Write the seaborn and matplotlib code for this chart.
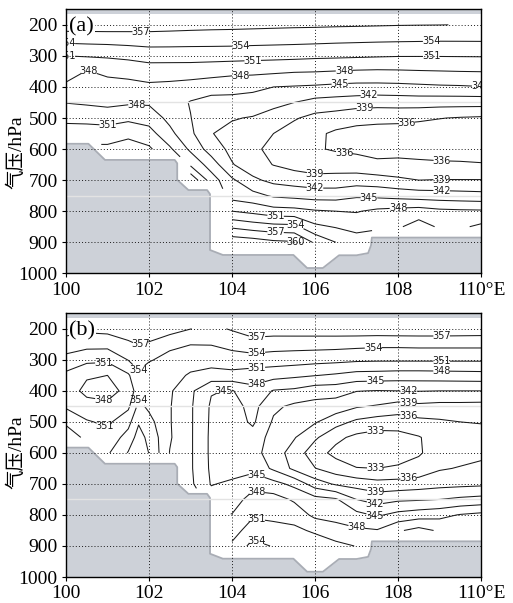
import numpy as np
import matplotlib
matplotlib.use("Agg")
import matplotlib.pyplot as plt
import seaborn as sns

nan = np.nan

# ---------------- data ----------------
pres = [200, 250, 300, 350, 400, 450, 500, 550, 600, 650, 700, 750, 800, 850, 900, 950, 1000]

lon_a = [100.0, 100.5, 101.0, 101.5, 102.0, 102.5, 103.0, 103.5, 104.0, 104.5, 105.0,
         105.5, 106.0, 106.5, 107.0, 107.5, 108.0, 108.5, 109.0, 109.5, 110.0]
# theta-e (K), one list per longitude column, values at the pressure levels in `pres`
theta_a_cols = [
    [358.66, 354.70, 351.00, 349.10, 347.50, 347.90, 350.20, 352.50, nan, nan, nan, nan, nan, nan, nan, nan, nan],
    [358.60, 354.85, 351.20, 347.90, 347.20, 347.60, 350.00, 352.60, nan, nan, nan, nan, nan, nan, nan, nan, nan],
    [358.60, 354.95, 351.40, 348.45, 347.20, 347.30, 349.60, 352.60, 354.60, nan, nan, nan, nan, nan, nan, nan, nan],
    [358.45, 355.15, 351.70, 349.00, 347.00, 347.60, 350.30, 353.30, 355.30, nan, nan, nan, nan, nan, nan, nan, nan],
    [358.30, 355.35, 352.20, 349.50, 347.40, 347.60, 349.70, 352.20, 354.50, nan, nan, nan, nan, nan, nan, nan, nan],
    [358.15, 355.30, 352.20, 349.45, 347.20, 346.60, 347.20, 348.80, 351.50, nan, nan, nan, nan, nan, nan, nan, nan],
    [358.00, 355.20, 352.20, 349.40, 346.80, 344.80, 345.10, 345.60, 347.40, 350.50, 356.50, nan, nan, nan, nan, nan, nan],
    [357.87, 355.15, 352.20, 349.10, 346.40, 343.80, 342.60, 342.10, 343.60, 346.60, 349.50, nan, nan, nan, nan, nan, nan],
    [357.80, 355.10, 352.15, 348.80, 346.00, 344.00, 342.20, 341.20, 341.20, 342.20, 345.50, 346.80, 351.00, 356.50, 362.00, nan, nan],
    [357.70, 355.00, 352.00, 348.70, 345.70, 343.70, 341.80, 340.20, 339.60, 340.30, 342.60, 346.00, 350.20, 355.60, 361.50, nan, nan],
    [357.60, 354.90, 351.90, 348.50, 345.00, 342.80, 340.80, 339.00, 338.20, 338.90, 341.20, 344.60, 349.20, 355.00, 360.60, nan, nan],
    [357.50, 354.80, 351.80, 348.20, 344.80, 342.00, 339.30, 337.60, 337.00, 338.00, 340.60, 344.20, 349.00, 354.80, 360.30, nan, nan],
    [357.45, 354.70, 351.60, 348.10, 344.60, 341.00, 338.10, 336.60, 336.30, 337.40, 340.10, 343.80, 348.30, 351.60, 356.50, nan, nan],
    [357.35, 354.55, 351.50, 347.90, 344.30, 340.70, 337.60, 335.50, 335.70, 337.60, 340.10, 343.80, 348.00, 350.80, 354.00, nan, nan],
    [357.28, 354.45, 351.38, 347.70, 344.10, 340.40, 336.80, 335.20, 335.40, 337.20, 340.50, 344.60, 347.80, 350.00, 352.50, nan, nan],
    [357.20, 354.35, 351.25, 347.60, 344.10, 340.10, 336.80, 334.80, 335.00, 336.60, 340.20, 344.40, 348.60, 350.50, nan, nan, nan],
    [357.11, 354.28, 351.13, 347.67, 344.20, 340.20, 336.80, 334.60, 334.80, 336.90, 339.50, 344.00, 349.00, 350.60, nan, nan, nan],
    [357.06, 354.22, 351.12, 347.80, 344.40, 340.30, 336.50, 334.40, 334.60, 336.70, 339.00, 343.60, 349.40, 352.30, nan, nan, nan],
    [357.03, 354.17, 351.12, 347.90, 344.60, 340.20, 336.10, 334.30, 334.50, 336.50, 339.10, 343.40, 348.70, 350.60, nan, nan, nan],
    [356.96, 354.18, 351.15, 348.00, 344.70, 340.20, 335.80, 334.30, 334.50, 336.40, 339.10, 343.20, 348.50, 350.50, nan, nan, nan],
    [356.85, 354.20, 351.18, 348.06, 344.90, 340.20, 335.60, 334.30, 334.60, 336.20, 339.10, 343.00, 348.40, 351.60, nan, nan, nan],
]

lon_b = [100.0, 100.5, 101.0, 101.5, 101.75, 102.0, 102.5, 103.0, 103.5, 104.0, 104.5, 105.0,
         105.5, 106.0, 106.5, 107.0, 107.5, 108.0, 108.5, 109.0, 109.5, 110.0]
theta_b_cols = [
    [358.20, 355.60, 353.00, 350.30, 349.30, 350.60, 353.40, 356.00, nan, nan, nan, nan, nan, nan, nan, nan, nan],
    [357.70, 355.00, 351.80, 348.30, 347.30, 349.00, 351.30, 353.20, nan, nan, nan, nan, nan, nan, nan, nan, nan],
    [358.00, 355.00, 351.60, 348.00, 347.00, 348.60, 350.40, 352.00, 353.60, nan, nan, nan, nan, nan, nan, nan, nan],
    [358.50, 356.50, 354.10, 350.60, 348.80, 350.40, 353.00, 355.20, 357.20, nan, nan, nan, nan, nan, nan, nan, nan],
    [358.80, 357.10, 355.00, 353.50, 352.80, 354.80, 356.70, 358.20, 359.50, nan, nan, nan, nan, nan, nan, nan, nan],
    [359.00, 356.60, 354.20, 352.80, 352.60, 353.40, 355.00, 356.20, 356.90, nan, nan, nan, nan, nan, nan, nan, nan],
    [358.50, 354.50, 353.30, 352.30, 351.40, 351.20, 351.20, 351.30, 350.90, nan, nan, nan, nan, nan, nan, nan, nan],
    [357.05, 354.05, 352.50, 350.60, 348.60, 348.40, 348.40, 348.40, 348.40, 348.40, 348.60, nan, nan, nan, nan, nan, nan],
    [356.20, 354.10, 352.30, 349.80, 345.20, 344.60, 344.50, 344.40, 344.40, 344.50, 344.80, 346.50, nan, nan, nan, nan, nan],
    [357.30, 354.80, 352.80, 350.00, 344.80, 343.80, 343.50, 343.40, 343.40, 343.60, 345.60, 346.80, 348.10, 349.80, 351.50, nan, nan],
    [358.30, 355.90, 352.60, 349.60, 347.00, 346.00, 345.50, 343.80, 343.20, 344.00, 347.10, 349.00, 350.60, 352.40, 355.00, nan, nan],
    [358.50, 355.30, 352.50, 349.10, 344.80, 342.60, 341.60, 340.80, 340.40, 341.50, 346.00, 349.20, 350.20, 352.10, 353.80, nan, nan],
    [358.60, 355.20, 352.30, 348.60, 344.40, 341.40, 340.00, 339.20, 337.80, 338.30, 344.20, 347.60, 349.70, 351.70, 353.50, nan, nan],
    [358.60, 355.20, 352.00, 348.10, 343.30, 341.00, 339.30, 336.50, 334.20, 336.10, 340.50, 346.10, 347.30, 350.50, 352.90, nan, nan],
    [358.70, 355.10, 351.80, 347.60, 343.20, 340.60, 337.20, 333.70, 332.20, 334.40, 338.60, 345.40, 346.90, 349.20, 351.80, nan, nan],
    [358.80, 354.90, 351.50, 346.90, 342.10, 339.30, 335.40, 332.30, 331.60, 333.10, 337.80, 342.00, 345.90, 348.50, 350.90, nan, nan],
    [358.80, 354.70, 351.40, 346.80, 341.90, 338.70, 334.60, 331.70, 331.00, 333.00, 337.00, 340.80, 344.60, 348.20, nan, nan, nan],
    [358.90, 354.70, 351.40, 346.60, 342.00, 337.80, 334.40, 332.00, 331.30, 333.50, 337.10, 341.50, 345.90, 350.60, nan, nan, nan],
    [358.90, 354.80, 351.40, 346.60, 342.10, 338.30, 335.20, 332.80, 332.70, 334.00, 337.50, 341.70, 346.60, 352.00, nan, nan, nan],
    [358.90, 354.80, 351.40, 346.70, 342.00, 338.00, 335.60, 334.40, 334.30, 335.70, 338.00, 342.00, 347.10, 350.60, nan, nan, nan],
    [358.80, 354.80, 351.40, 346.80, 342.00, 338.00, 336.00, 334.90, 334.80, 336.20, 338.20, 342.60, 348.20, 350.50, nan, nan, nan],
    [358.70, 354.80, 351.40, 346.90, 342.00, 337.90, 336.10, 335.30, 335.20, 336.80, 338.40, 343.00, 348.80, 350.30, nan, nan, nan],
]

# terrain profile (surface pressure, hPa)
terrain_lon = [100.0, 100.54, 100.94, 102.62, 102.68, 102.68, 102.95, 103.40, 103.47, 103.47,
               103.78, 105.48, 105.81, 106.19, 106.58, 107.00, 107.28, 107.35, 107.37, 110.0]
terrain_p = [583, 583, 635, 635, 646, 699, 732, 732, 745, 925,
             941, 941, 983, 983, 942, 942, 935, 910, 885, 885]

levels = [333, 336, 339, 342, 345, 348, 351, 354, 357, 360]

xticks = [100, 102, 104, 106, 108, 110]
xtick_labels = ["100", "102", "104", "106", "108", "110°E"]
yticks = [200, 300, 400, 500, 600, 700, 800, 900, 1000]

# where the contour labels sit (lon, hPa)
label_pos_a = [(101.8, 222), (104.2, 270), (108.8, 253), (104.5, 318), (108.8, 302),
               (100.55, 348), (104.2, 362), (106.7, 346), (101.7, 458), (101.0, 520),
               (106.6, 390), (107.3, 428), (107.2, 464), (108.2, 515), (106.7, 612),
               (109.05, 650), (106.0, 680), (109.05, 699), (106.0, 728), (109.05, 738),
               (107.3, 756), (108.0, 790), (105.05, 816), (105.55, 843), (105.05, 868),
               (105.55, 896), (100.02, 259), (100.02, 300), (109.98, 398)]
label_pos_b = [(101.8, 252), (104.6, 226), (109.05, 219), (100.9, 310), (101.75, 333),
               (100.9, 429), (101.75, 430), (100.9, 520), (103.8, 400), (104.6, 280),
               (104.6, 327), (104.6, 378), (107.4, 261), (109.05, 306), (109.05, 337),
               (107.45, 370), (108.25, 401), (108.25, 435), (108.25, 480), (107.45, 530),
               (107.45, 646), (108.25, 682), (107.45, 724), (107.45, 760), (107.45, 795),
               (107.0, 840), (104.6, 668), (104.6, 722), (104.6, 810), (104.6, 880)]

# ---------------- style ----------------
sns.set_theme(style="ticks", rc={
    "axes.edgecolor": "black", "axes.linewidth": 1.0,
    "xtick.color": "black", "ytick.color": "black",
    "xtick.direction": "out", "ytick.direction": "out",
    "xtick.major.size": 3, "ytick.major.size": 3,
    "xtick.major.width": 0.8, "ytick.major.width": 0.8,
    "text.color": "black", "axes.labelcolor": "black",
})
plt.rcParams["font.family"] = ["Liberation Serif", "Noto Sans CJK SC", "DejaVu Sans"]

fill_col = "#cdd1d8"
edge_col = "#a9adb5"

fig = plt.figure(figsize=(5.13, 6.03), dpi=100)
rects = [[66 / 513, 1 - 273.3 / 603, 415 / 513, 264.0 / 603],
         [66 / 513, 1 - 577.0 / 603, 415 / 513, 263.7 / 603]]
ylab_y = [0.46, 0.475]
panels = [("(a)", lon_a, theta_a_cols, label_pos_a), ("(b)", lon_b, theta_b_cols, label_pos_b)]

for i, (rect, (tag, lons, cols, lpos)) in enumerate(zip(rects, panels)):
    ax = fig.add_axes(rect)
    Z = np.array(cols, dtype=float).T
    cs = ax.contour(lons, pres, Z, levels=levels, colors="k", linewidths=0.75, zorder=2)
    texts = ax.clabel(cs, fmt="%d", fontsize=7, inline=True, inline_spacing=1, manual=lpos)
    for t in texts:
        t.set_rotation(0)
        t.set_fontfamily("DejaVu Sans")
        t.set_zorder(7)
        t.set_clip_on(True)

    # terrain
    ax.fill_between(terrain_lon, terrain_p, 1000, color=fill_col, lw=0, zorder=3)
    sns.lineplot(x=terrain_lon, y=terrain_p, ax=ax, sort=False, estimator=None,
                 color=edge_col, lw=1.3, zorder=3.2, legend=False)
    # missing data band at top
    ax.fill_between([100, 110], [150, 150], [165, 165], color=fill_col, lw=0, zorder=3)

    # dotted grid
    for x in xticks[1:-1]:
        ax.axvline(x, color="k", lw=0.7, ls=(0, (1, 2.2)), zorder=4)
    for y in yticks[:-1]:
        ax.axhline(y, color="k", lw=0.7, ls=(0, (1, 2.2)), zorder=4)
    for y in (450, 750):
        ax.axhline(y, color="#e3e3e3", lw=1.0, zorder=4.5)

    ax.set_xlim(100, 110)
    ax.set_ylim(1000, 150)
    ax.set_xticks(xticks)
    ax.set_xticklabels(xtick_labels)
    ax.set_yticks(yticks)
    ax.tick_params(labelsize=14, pad=3)
    ax.set_xlabel("")
    ax.set_ylabel("气压/hPa", fontsize=14)
    ax.yaxis.set_label_coords(-0.098, ylab_y[i])
    for s in ax.spines.values():
        s.set_visible(True)
        s.set_linewidth(1.0)
        s.set_zorder(8)

    ax.text(100.08, 207, tag, fontsize=16, ha="left", va="center", zorder=6,
            bbox=dict(facecolor="white", edgecolor="none", pad=0.3))

fig.savefig("out.png", dpi=100)
